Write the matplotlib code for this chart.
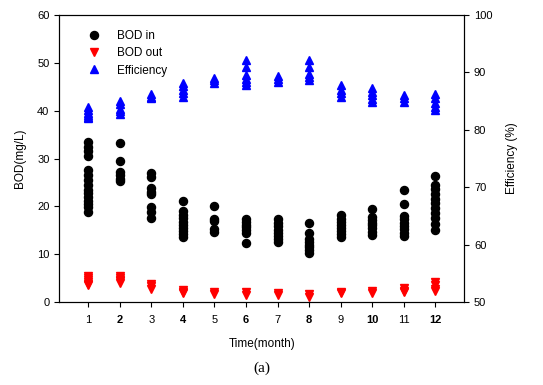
import matplotlib.pyplot as plt

plt.rcParams.update({
    "font.family": "Liberation Sans",
    "font.size": 8,
    "xtick.direction": "out",
    "ytick.direction": "out",
    "xtick.major.size": 3.5,
    "ytick.major.size": 3.5,
})

months = list(range(1, 13))

# BOD influent (mg/L), read per month
bod_in = [
    [33.4, 32.5, 31.5, 30.5, 27.5, 26.5, 25.5, 24.5, 23.5, 22.8, 22.0, 21.2, 20.5, 19.8, 18.9],
    [33.3, 29.4, 27.1, 26.5, 25.8, 25.2],
    [27.0, 26.2, 23.8, 23.0, 22.6, 19.9, 18.9, 17.6],
    [21.2, 19.0, 18.2, 17.5, 16.8, 16.0, 15.4, 14.8, 14.2, 13.5],
    [20.1, 17.3, 16.9, 15.3, 14.7],
    [17.4, 16.8, 16.2, 15.6, 15.0, 14.4, 12.3],
    [17.4, 16.6, 15.8, 15.0, 14.4, 13.8, 13.2, 12.5],
    [16.6, 14.4, 13.2, 12.6, 12.0, 11.4, 10.8, 10.2],
    [18.2, 17.4, 16.7, 16.0, 15.4, 14.8, 14.2, 13.6],
    [19.4, 17.8, 17.2, 16.6, 16.0, 15.4, 14.6, 14.0],
    [23.4, 20.5, 18.0, 17.3, 16.6, 15.9, 15.2, 14.5, 13.8],
    [26.4, 24.4, 23.6, 22.6, 21.6, 20.6, 19.6, 18.6, 17.6, 16.4, 15.1],
]

# BOD effluent (mg/L)
bod_out = [
    [5.4, 5.0, 4.6, 4.2, 3.8, 3.5],
    [5.5, 5.1, 4.7, 4.3, 4.0],
    [3.8, 3.3, 2.8],
    [2.5, 2.1, 1.8],
    [2.0, 1.6],
    [2.0, 1.5],
    [1.8, 1.4],
    [1.6, 1.0],
    [2.0, 1.8],
    [2.3, 1.9],
    [3.0, 2.4, 2.0],
    [4.2, 3.5, 2.8, 2.3],
]

# Removal efficiency (%)
efficiency = [
    [83.9, 83.4, 83.0, 82.6, 82.2, 82.0],
    [85.0, 84.5, 83.7, 83.2, 82.7],
    [86.2, 85.8, 85.5],
    [88.2, 87.6, 87.0, 86.4, 85.8],
    [89.0, 88.6, 88.2],
    [92.2, 90.9, 89.6, 88.9, 88.3, 87.8],
    [89.4, 88.9, 88.4],
    [92.2, 90.9, 89.8, 89.2, 88.7],
    [87.8, 87.0, 86.4, 85.8],
    [87.3, 86.6, 86.0, 85.4, 84.8],
    [86.1, 85.5, 84.9],
    [86.3, 85.5, 84.6, 84.0, 83.4],
]


def flatten(groups):
    xs, ys = [], []
    for m, vals in zip(months, groups):
        xs += [m] * len(vals)
        ys += vals
    return xs, ys


fig = plt.figure(figsize=(5.43, 3.85), dpi=100)
ax = fig.add_axes([0.109, 0.2156, 0.746, 0.7454])
ax2 = ax.twinx()

x, y = flatten(bod_in)
h1, = ax.plot(x, y, "o", color="black", markersize=5.8, linestyle="none", label="BOD in")
x, y = flatten(bod_out)
h2, = ax.plot(x, y, "v", color="red", markersize=6.3, linestyle="none", label="BOD out")
x, y = flatten(efficiency)
h3, = ax2.plot(x, y, "^", color="blue", markersize=6.3, linestyle="none", label="Efficiency")

ax.set_xlim(0.08, 12.92)
ax.set_ylim(0, 60)
ax2.set_ylim(50, 100)
ax.set_yticks(range(0, 61, 10))
ax2.set_yticks(range(50, 101, 10))
ax.set_xticks(months)
ax.set_xticklabels([str(m) for m in months])
for lbl, m in zip(ax.get_xticklabels(), months):
    if m % 2 == 0:
        lbl.set_fontweight("bold")
ax.tick_params(axis="x", pad=6)

ax.set_xlabel("Time(month)", fontsize=8.5, labelpad=9)
ax.set_ylabel("BOD(mg/L)", fontsize=8.5, labelpad=8)
ax2.set_ylabel("Efficiency (%)", fontsize=8.5, labelpad=10)

ax.legend(handles=[h1, h2, h3], loc="upper left", frameon=False,
          bbox_to_anchor=(0.03, 0.985), handletextpad=1.0, labelspacing=0.45,
          fontsize=8.5)

fig.text(0.483, 0.035, "(a)", family="Liberation Serif", fontsize=11, ha="center")

fig.savefig("out.png", dpi=100)
